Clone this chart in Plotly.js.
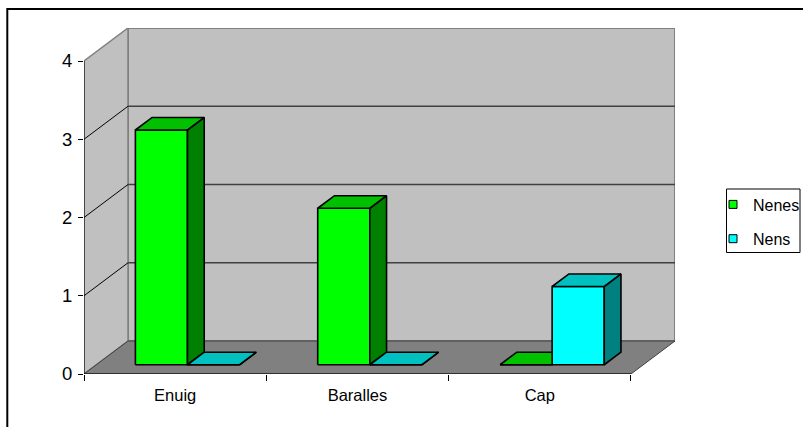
<!DOCTYPE html>
<html>
<head>
<meta charset="utf-8">
<script src="https://cdn.plot.ly/plotly-3.0.1.min.js"></script>
<style>html,body{margin:0;padding:0;background:#fff;}#chart{width:803px;height:427px;}</style>
</head>
<body>
<div id="chart"></div>
<script>
// ---- data ----
const categories = ['Enuig', 'Baralles', 'Cap'];
const seriesNames = ['Nenes', 'Nens'];
const nenes = [3, 2, 0];
const nens = [0, 0, 1];
const yTicks = [0, 1, 2, 3, 4];

// ---- geometry (plot units) ----
const ML = 84, MR = 128, MT = 28, MB = 53;
const PW = 803 - ML - MR, PH = 427 - MT - MB;
const catPx = 182.33;                 // px per category on the front plane
const yMax = yTicks[yTicks.length - 1];
const unitPx = (PH - 33) / yMax;      // px per value unit
const DX = 44 / catPx;                // depth offset in x units
const DY = 33 / unitPx;               // depth offset in y units
const xRange = [-0.5, -0.5 + PW / catPx];
const yRange = [0, yMax + DY];
const x0c = -0.5, x1c = categories.length - 0.5;
const barW = 1 / 3.5;                 // gap width 150%
const t0 = 0.28, t1 = 0.66;           // bar depth span

function P(x, y, t) { return [x + t * DX, y + t * DY]; }
function poly(pts) {
  const xs = [], ys = [];
  pts.forEach(p => { xs.push(p[0]); ys.push(p[1]); });
  xs.push(pts[0][0]); ys.push(pts[0][1]);
  return {x: xs, y: ys};
}
function merge(polys) {
  const x = [], y = [];
  polys.forEach((p, i) => { if (i) { x.push(null); y.push(null); } x.push(...p.x); y.push(...p.y); });
  return {x, y};
}
function face(geom, fill, line, lw) {
  return {type: 'scatter', mode: 'lines', x: geom.x, y: geom.y, fill: 'toself',
    fillcolor: fill, line: {color: line, width: lw}, hoverinfo: 'skip', showlegend: false};
}
function seg(geom, color, w) {
  return {type: 'scatter', mode: 'lines', x: geom.x, y: geom.y, line: {color: color, width: w},
    hoverinfo: 'skip', showlegend: false, connectgaps: false};
}

const traces = [];
// back wall
traces.push(face(poly([P(x0c, 0, 1), P(x1c, 0, 1), P(x1c, yMax, 1), P(x0c, yMax, 1)]), '#c0c0c0', '#808080', 2));
// side wall
traces.push(face(poly([P(x0c, 0, 0), P(x0c, yMax, 0), P(x0c, yMax, 1), P(x0c, 0, 1)]), '#c0c0c0', '#808080', 1.5));
// gridlines
const gridBack = merge(yTicks.slice(1, -1).map(v => ({x: [P(x0c, v, 1)[0], P(x1c, v, 1)[0]], y: [P(x0c, v, 1)[1], P(x1c, v, 1)[1]]})));
const gridSide = merge(yTicks.slice(1, -1).map(v => ({x: [P(x0c, v, 0)[0], P(x0c, v, 1)[0]], y: [P(x0c, v, 0)[1], P(x0c, v, 1)[1]]})));
traces.push(seg(gridBack, '#404040', 1.5));
traces.push(seg(gridSide, '#000000', 1));
// floor
traces.push(face(poly([P(x0c, 0, 0), P(x1c, 0, 0), P(x1c, 0, 1), P(x0c, 0, 1)]), '#808080', '#404040', 1));

// bars
const seriesVals = [nenes, nens];
const colors = [
  {front: '#00ff00', side: '#008000', top: '#00c000'},
  {front: '#00ffff', side: '#008080', top: '#00c0c0'}
];
seriesVals.forEach((vals, s) => {
  const fronts = [], sides = [], tops = [];
  vals.forEach((v, i) => {
    const xa = i - barW + s * barW, xb = xa + barW;
    fronts.push(poly([P(xa, 0, t0), P(xb, 0, t0), P(xb, v, t0), P(xa, v, t0)]));
    sides.push(poly([P(xb, 0, t0), P(xb, 0, t1), P(xb, v, t1), P(xb, v, t0)]));
    tops.push(poly([P(xa, v, t0), P(xb, v, t0), P(xb, v, t1), P(xa, v, t1)]));
  });
  traces.push(face(merge(fronts), colors[s].front, '#000', 1.6));
  traces.push(face(merge(sides), colors[s].side, '#000', 1.6));
  traces.push(face(merge(tops), colors[s].top, '#000', 1.6));
});

// front axis lines
traces.push(seg({x: [x0c, x0c], y: [0, yMax]}, '#000', 1));
traces.push(seg({x: [x0c, x1c], y: [0, 0]}, '#000', 1));

// legend entries
seriesNames.forEach((n, s) => {
  traces.push({type: 'scatter', mode: 'markers', x: [null], y: [null], name: n,
    legendgroup: n, marker: {symbol: 'square', size: 8, color: colors[s].front, line: {color: '#000', width: 1}},
    hoverinfo: 'skip', showlegend: true});
});

const px2x = px => (px - ML) / PW;
const px2y = py => (427 - MB - py) / PH;
const font = 'Liberation Sans, Arial, sans-serif';

const layout = {
  width: 803, height: 427,
  margin: {l: ML, r: MR, t: MT, b: MB, pad: 0, autoexpand: false},
  paper_bgcolor: '#ffffff', plot_bgcolor: 'rgba(0,0,0,0)',
  font: {family: font, size: 16.5, color: '#000'},
  showlegend: true,
  legend: {x: px2x(713), y: px2y(187.5), xanchor: 'left', yanchor: 'top',
    bgcolor: 'rgba(0,0,0,0)', borderwidth: 0, font: {size: 16},
    traceorder: 'grouped', tracegroupgap: 10.5},
  xaxis: {range: xRange, fixedrange: true, showgrid: false, zeroline: false, showline: false,
    tickmode: 'array', tickvals: categories.map((c, i) => i), ticktext: categories, ticks: '',
    ticklabelstandoff: 9, tickfont: {size: 16.5},
    minor: {tickmode: 'array', tickvals: categories.map((c, i) => i - 0.5).concat([x1c]),
      ticks: 'outside', ticklen: 6, tickwidth: 1, tickcolor: '#000', showgrid: false}},
  yaxis: {range: yRange, fixedrange: true, showgrid: false, zeroline: false, showline: false,
    tickmode: 'array', tickvals: yTicks, ticks: 'outside', ticklen: 5, tickwidth: 1, tickcolor: '#000',
    ticklabelstandoff: 2, tickfont: {size: 18.5}},
  shapes: [
    {type: 'rect', xref: 'paper', yref: 'paper', x0: px2x(7.3), x1: px2x(830), y0: px2y(450), y1: px2y(9),
      line: {color: '#000', width: 2}, fillcolor: 'rgba(0,0,0,0)', layer: 'above'},
    {type: 'rect', xref: 'paper', yref: 'paper', x0: px2x(726.5), x1: px2x(800), y0: px2y(252.5), y1: px2y(189),
      line: {color: '#000', width: 1}, fillcolor: 'rgba(0,0,0,0)', layer: 'above'}
  ]
};

Plotly.newPlot('chart', traces, layout, {staticPlot: true, displayModeBar: false});
</script>
</body>
</html>
